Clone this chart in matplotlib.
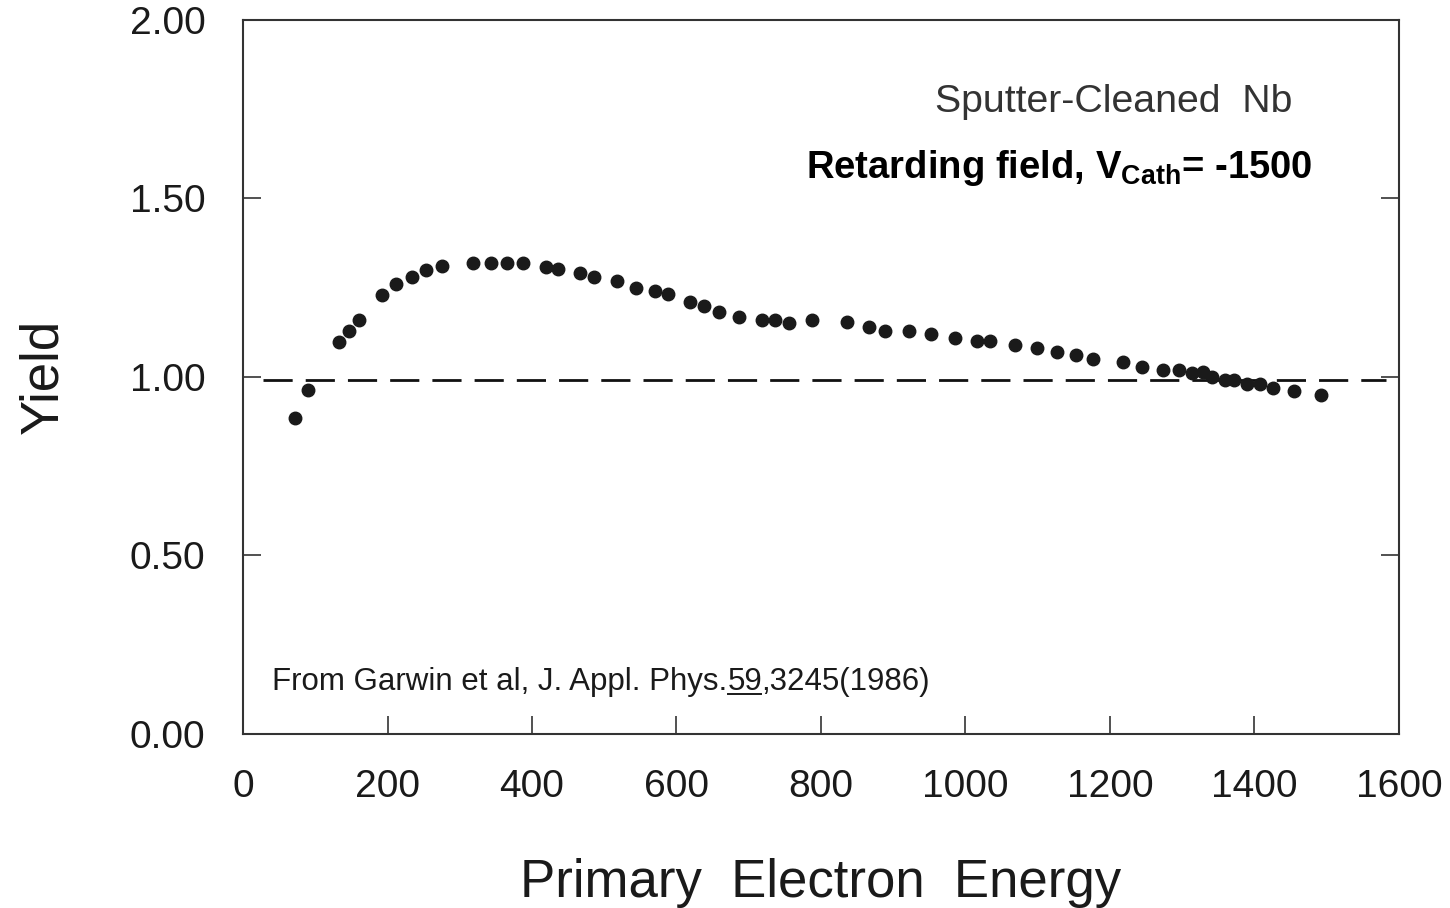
import numpy as np
import matplotlib
matplotlib.use("Agg")
import matplotlib.pyplot as plt
from matplotlib.lines import Line2D

plt.rcParams['font.family'] = ['Liberation Sans', 'DejaVu Sans']
plt.rcParams['mathtext.fontset'] = 'custom'
plt.rcParams['mathtext.rm'] = 'Liberation Sans'
plt.rcParams['mathtext.bf'] = 'Liberation Sans:bold'

# secondary electron yield, sputter-cleaned Nb
energy = [72, 90, 133, 147, 160, 192, 212, 234, 253, 275,
          319, 343, 365, 388, 419, 436, 466, 486, 517, 544,
          570, 588, 619, 638, 659, 687, 719, 736, 756, 787,
          836, 867, 888, 922, 952, 985, 1016, 1034, 1069, 1099,
          1126, 1153, 1176, 1218, 1245, 1274, 1296, 1314, 1329, 1341,
          1359, 1372, 1389, 1407, 1426, 1455, 1492]
yield_ = [0.884, 0.962, 1.098, 1.129, 1.159, 1.229, 1.259, 1.279, 1.299, 1.310,
          1.319, 1.319, 1.319, 1.319, 1.308, 1.301, 1.290, 1.279, 1.269, 1.250,
          1.240, 1.231, 1.209, 1.199, 1.181, 1.168, 1.159, 1.159, 1.150, 1.159,
          1.153, 1.139, 1.128, 1.129, 1.119, 1.108, 1.100, 1.100, 1.090, 1.080,
          1.070, 1.060, 1.049, 1.041, 1.029, 1.020, 1.020, 1.010, 1.013, 1.001,
          0.990, 0.990, 0.979, 0.979, 0.969, 0.960, 0.948]

unity_x = [28, 1582]
unity_y = [0.99, 0.99]

xticks = [0, 200, 400, 600, 800, 1000, 1200, 1400, 1600]
yticks = [0.0, 0.5, 1.0, 1.5, 2.0]

fig = plt.figure(figsize=(14.5, 9.08), dpi=100)
ax = fig.add_axes([0.1676, 0.1916, 0.7972, 0.7867])

ax.plot(unity_x, unity_y, color='#111111', lw=2.0, dashes=(10.5, 4.7))
ax.plot(energy, yield_, 'o', color='#1a1a1a', ms=9, mec='#1a1a1a')

ax.set_xlim(0, 1600)
ax.set_ylim(0, 2)
ax.set_xticks(xticks)
ax.set_yticks(yticks)
ax.set_yticklabels(['%.2f' % v for v in yticks])

for s in ax.spines.values():
    s.set_linewidth(1.5)
    s.set_color('#333333')
ax.tick_params(axis='both', direction='in', length=13, width=1.2, colors='#333333',
               labelcolor='#1a1a1a', labelsize=28)
ax.tick_params(axis='x', pad=25)
ax.tick_params(axis='y', pad=27, right=True)

ax.set_xlabel('Primary  Electron  Energy', fontsize=38, color='#1a1a1a', labelpad=38)
ax.set_ylabel('Yield', fontsize=38, color='#1a1a1a', labelpad=44)

ax.text(1453, 1.77, 'Sputter-Cleaned  Nb', fontsize=28.3, color='#333333',
        ha='right', va='center')
ax.text(1480, 1.557, r'Retarding field, V$_{\mathbf{Cath}}$= -1500', fontsize=27.5,
        fontweight='bold', color='black', ha='right', va='baseline')

# reference line, volume number underlined, built from three pieces
ref_kw = dict(fontsize=22.5, color='#1a1a1a', va='baseline', ha='left')
renderer = fig.canvas.get_renderer()
base_x, base_y = ax.transData.transform((40, 0.123))
t1 = fig.text(base_x, base_y, 'From Garwin et al, J. Appl. Phys.',
              transform=None, **ref_kw)
x1 = t1.get_window_extent(renderer).x1 + 1
t2 = fig.text(x1, base_y, '59', transform=None, **ref_kw)
bb2 = t2.get_window_extent(renderer)
fig.add_artist(Line2D([bb2.x0, bb2.x1 - 2], [base_y - 4, base_y - 4], transform=None,
                      color='#1a1a1a', lw=1.4))
fig.text(bb2.x1 - 2, base_y, ',3245(1986)', transform=None, **ref_kw)

fig.savefig('out.png', dpi=100)
